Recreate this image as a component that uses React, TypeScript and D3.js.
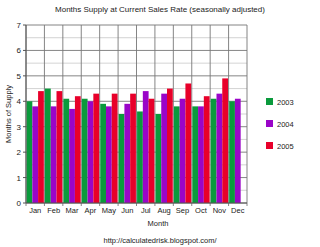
import React from "react";
import * as d3 from "d3";

const months = ["Jan","Feb","Mar","Apr","May","Jun","Jul","Aug","Sep","Oct","Nov","Dec"];
const series = ["2003","2004","2005"];
const v2003 = [4.0,4.5,4.1,4.1,3.9,3.5,3.6,3.5,3.8,3.8,4.1,4.0];
const v2004 = [3.8,3.8,3.7,4.0,3.8,3.9,4.4,4.3,4.1,3.8,4.3,4.1];
const v2005: (number|null)[] = [4.4,4.4,4.2,4.3,4.3,4.3,4.1,4.5,4.7,4.2,4.9,null];
const colors = ["#0a9a3c","#9a05c8","#e8002a"];
const yTicks = [0,1,2,3,4,5,6,7];

export default function App() {
  const W = 320, H = 247;
  const left = 26, right = 247, top = 25, bottom = 203;
  const x = d3.scaleBand<string>().domain(months).range([left, right]).paddingInner(0).paddingOuter(0);
  const inner = d3.scaleBand<string>().domain(series).range([0, x.bandwidth()]).paddingInner(0).paddingOuter(0.1);
  const y = d3.scaleLinear().domain([0, 7]).range([bottom, top]);
  const data = [v2003, v2004, v2005];
  const minor = d3.range(0.5, 7, 1);
  const font = "Liberation Sans, Arial, sans-serif";
  return (
    <svg width={W} height={H} style={{ position: "absolute", left: 0, top: 0, background: "#fff" }} fontFamily={font}>
      <rect x={0} y={0} width={W} height={H} fill="#fff" />
      <text x={160} y={12} textAnchor="middle" fontSize={8} fill="#222">Months Supply at Current Sales Rate (seasonally adjusted)</text>
      {minor.map(t => (
        <line key={"m"+t} x1={left} x2={right} y1={y(t)} y2={y(t)} stroke="#c8c8c8" strokeWidth={0.8} />
      ))}
      {yTicks.map(t => (
        <line key={"g"+t} x1={left} x2={right} y1={y(t)} y2={y(t)} stroke="#777" strokeWidth={0.9} />
      ))}
      {months.map((m, i) => (
        <line key={"v"+m} x1={x(m)!} x2={x(m)!} y1={top} y2={bottom + 3} stroke="#777" strokeWidth={0.9} />
      ))}
      <line x1={right} x2={right} y1={top} y2={bottom + 3} stroke="#777" strokeWidth={0.9} />
      {data.map((vals, si) =>
        vals.map((v, i) => v == null ? null : (
          <rect key={si+"-"+i} x={x(months[i])! + inner(series[si])!} width={inner.bandwidth()} y={y(v)} height={y(0) - y(v)} fill={colors[si]} />
        ))
      )}
      <line x1={left} x2={left} y1={top} y2={bottom} stroke="#555" strokeWidth={1} />
      <line x1={left} x2={right} y1={bottom} y2={bottom} stroke="#555" strokeWidth={1} />
      {yTicks.map(t => (
        <g key={"t"+t}>
          <line x1={left - 3} x2={left} y1={y(t)} y2={y(t)} stroke="#555" />
          <text x={left - 5} y={y(t) + 3} textAnchor="end" fontSize={8} fill="#222">{t}</text>
        </g>
      ))}
      {months.map(m => (
        <text key={"l"+m} x={x(m)! + x.bandwidth() / 2} y={213} textAnchor="middle" fontSize={7.5} fill="#222">{m}</text>
      ))}
      <text x={158} y={226} textAnchor="middle" fontSize={7.5} fill="#222">Month</text>
      <text transform={`translate(11,${(top + bottom) / 2}) rotate(-90)`} textAnchor="middle" fontSize={7.5} fill="#222">Months of Supply</text>
      {series.map((s, i) => (
        <g key={"lg"+s}>
          <rect x={266} y={98 + i * 22} width={7} height={7} fill={colors[i]} />
          <text x={277} y={105 + i * 22} fontSize={7.5} fill="#222">{s}</text>
        </g>
      ))}
      <text x={160} y={243} textAnchor="middle" fontSize={7.5} fill="#222">http://calculatedrisk.blogspot.com/</text>
    </svg>
  );
}
